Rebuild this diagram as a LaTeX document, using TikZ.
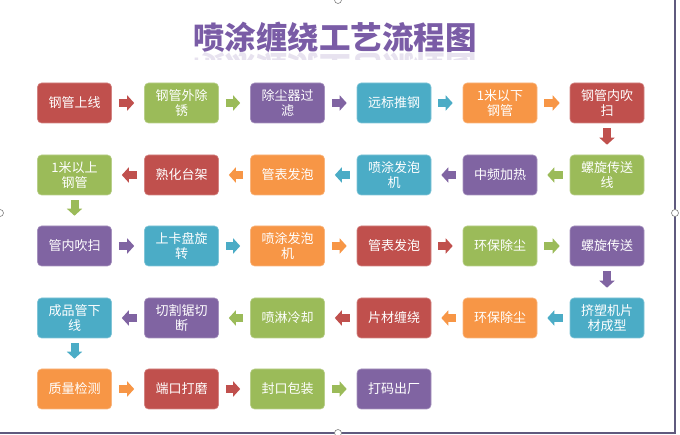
\documentclass[tikz,border=0pt]{standalone}
\usepackage{fontspec}
\newfontfamily\cjk{Noto Sans CJK SC}
\usetikzlibrary{arrows.meta}
\definecolor{ored}{HTML}{C0504D}
\definecolor{ogreen}{HTML}{9BBB59}
\definecolor{opurple}{HTML}{8064A2}
\definecolor{oteal}{HTML}{4BACC6}
\definecolor{oorange}{HTML}{F79646}
\definecolor{otitle}{HTML}{7A5CA6}
\definecolor{oframe}{HTML}{5F5A7E}
\tikzset{
  pbox/.style={fill=#1, draw=#1!70!white, line width=0.6pt, rounded corners=4pt,
    minimum width=74pt, minimum height=40pt, inner sep=1pt, text=white,
    font=\cjk\fontsize{13}{15.5}\selectfont, align=center},
  barr/.style={draw=#1, line width=8pt,
    -{Triangle[width=15pt,length=7pt]}},
  harr/.style={barr=#1, shorten <=7pt, shorten >=10pt},
  varr/.style={barr=#1, shorten <=5pt, shorten >=10pt},
  handle/.style={circle, draw=gray, fill=white, line width=0.6pt, minimum size=7pt, inner sep=0pt}
}
\begin{document}
\begin{tikzpicture}[x=1pt,y=-1pt]
\useasboundingbox (0,0) rectangle (680,435);
% frame
\draw[oframe, line width=1.3pt] (675,0) coordinate (fa) -- (675,433) coordinate (fb) -- (0,433) coordinate (fc);
\node[handle] (h1) at (675,213) {};
\node[handle] (h2) at (338,433) {};
\node[handle] (h3) at (0,213) {};
\node[handle] (h4) at (338,0) {};
% title
\node[font=\cjk\bfseries\fontsize{31.5}{34}\selectfont, text=otitle] (title) at (335,37) {喷涂缠绕工艺流程图};
\begin{scope}
\clip (150,52) rectangle (530,60);
\node[font=\cjk\bfseries\fontsize{31.5}{34}\selectfont, text=otitle!18!white, yscale=-1] (refl) at (335,68) {喷涂缠绕工艺流程图};
\end{scope}
% row 1
\node[pbox=ored]     (a1) at (74.5,103) {钢管上线};
\node[pbox=ogreen]   (a2) at (181.5,103) {钢管外除\\锈};
\node[pbox=opurple]  (a3) at (287.5,103) {除尘器过\\滤};
\node[pbox=oteal]    (a4) at (394,103) {远标推钢};
\node[pbox=oorange]  (a5) at (500,103) {1米以下\\钢管};
\node[pbox=ored]     (a6) at (607,103) {钢管内吹\\扫};
% row 2
\node[pbox=ogreen]   (b6) at (607,175) {螺旋传送\\线};
\node[pbox=opurple]  (b5) at (500,175) {中频加热};
\node[pbox=oteal]    (b4) at (394,175) {喷涂发泡\\机};
\node[pbox=oorange]  (b3) at (287.5,175) {管表发泡};
\node[pbox=ored]     (b2) at (181.5,175) {熟化台架};
\node[pbox=ogreen]   (b1) at (74.5,175) {1米以上\\钢管};
% row 3
\node[pbox=opurple]  (c1) at (74.5,246) {管内吹扫};
\node[pbox=oteal]    (c2) at (181.5,246) {上卡盘旋\\转};
\node[pbox=oorange]  (c3) at (287.5,246) {喷涂发泡\\机};
\node[pbox=ored]     (c4) at (394,246) {管表发泡};
\node[pbox=ogreen]   (c5) at (500,246) {环保除尘};
\node[pbox=opurple]  (c6) at (607,246) {螺旋传送};
% row 4
\node[pbox=oteal]    (d6) at (607,318) {挤塑机片\\材成型};
\node[pbox=oorange]  (d5) at (500,318) {环保除尘};
\node[pbox=ored]     (d4) at (394,318) {片材缠绕};
\node[pbox=ogreen]   (d3) at (287.5,318) {喷淋冷却};
\node[pbox=opurple]  (d2) at (181.5,318) {切割锯切\\断};
\node[pbox=oteal]    (d1) at (74.5,318) {成品管下\\线};
% row 5
\node[pbox=oorange]  (e1) at (74.5,389) {质量检测};
\node[pbox=ored]     (e2) at (181.5,389) {端口打磨};
\node[pbox=ogreen]   (e3) at (287.5,389) {封口包装};
\node[pbox=opurple]  (e4) at (394,389) {打码出厂};
% arrows row 1
\draw[harr=ored]    (a1) -- (a2);
\draw[harr=ogreen]  (a2) -- (a3);
\draw[harr=opurple] (a3) -- (a4);
\draw[harr=oteal]   (a4) -- (a5);
\draw[harr=oorange] (a5) -- (a6);
\draw[varr=ored]    (a6) -- (b6);
% row 2
\draw[harr=ogreen]  (b6) -- (b5);
\draw[harr=opurple] (b5) -- (b4);
\draw[harr=oteal]   (b4) -- (b3);
\draw[harr=oorange] (b3) -- (b2);
\draw[harr=ored]    (b2) -- (b1);
\draw[varr=ogreen]  (b1) -- (c1);
% row 3
\draw[harr=opurple] (c1) -- (c2);
\draw[harr=oteal]   (c2) -- (c3);
\draw[harr=oorange] (c3) -- (c4);
\draw[harr=ored]    (c4) -- (c5);
\draw[harr=ogreen]  (c5) -- (c6);
\draw[varr=opurple] (c6) -- (d6);
% row 4
\draw[harr=oteal]   (d6) -- (d5);
\draw[harr=oorange] (d5) -- (d4);
\draw[harr=ored]    (d4) -- (d3);
\draw[harr=ogreen]  (d3) -- (d2);
\draw[harr=opurple] (d2) -- (d1);
\draw[varr=oteal]   (d1) -- (e1);
% row 5
\draw[harr=oorange] (e1) -- (e2);
\draw[harr=ored]    (e2) -- (e3);
\draw[harr=ogreen]  (e3) -- (e4);
\end{tikzpicture}
\end{document}
